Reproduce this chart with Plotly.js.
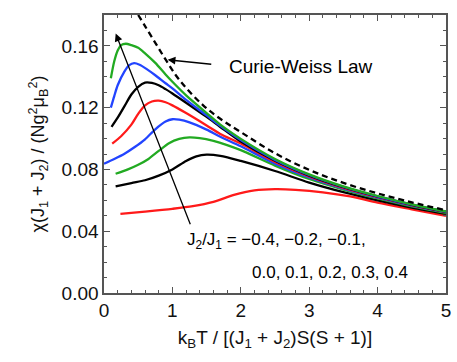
<!DOCTYPE html>
<html>
<head>
<meta charset="utf-8">
<script src="https://cdn.plot.ly/plotly-3.0.1.min.js"></script>
<style>
  html, body { margin: 0; padding: 0; background: #fff; }
  #chi-figure { width: 457px; height: 362px; }
</style>
</head>
<body>
<div id="chi-figure"></div>
<script>
// values
var cw_x = [0.5, 0.6, 0.75, 0.9, 1.05, 1.2, 1.45, 1.7, 2.0, 2.5, 3.0, 3.5, 4.0, 4.5, 5.0]
var cw_y = [0.180, 0.1728, 0.1620, 0.1512, 0.1410, 0.1328, 0.1215, 0.1128, 0.1042, 0.0905, 0.0797, 0.0713, 0.0645, 0.0587, 0.0536]

var tail_x = [2.5, 3.0, 3.5, 4.0, 4.5, 5.0]

// J2/J1 = -0.4
var red_m04_x = [0.24, 0.6, 1.0, 1.3, 1.6, 1.9, 2.2, 2.5, 2.8, 3.2, 3.6, 4.0, 4.5, 5.0]
var red_m04_y = [0.0512, 0.0527, 0.0545, 0.0562, 0.0590, 0.0635, 0.0664, 0.0672, 0.0668, 0.0652, 0.0625, 0.0585, 0.0542, 0.0500]
// J2/J1 = -0.2
var blk_m02_x = [0.17, 0.4, 0.6, 0.8, 1.0, 1.2, 1.35, 1.5, 1.7, 2.0].concat(tail_x)
var blk_m02_y = [0.0690, 0.0712, 0.0730, 0.0760, 0.0800, 0.0855, 0.0885, 0.0896, 0.0888, 0.0855, 0.0790, 0.0715, 0.0653, 0.0600, 0.0553, 0.0512]
// J2/J1 = -0.1
var grn_m01_x = [0.17, 0.35, 0.5, 0.65, 0.8, 0.95, 1.1, 1.25, 1.4, 1.6, 1.8, 2.0].concat(tail_x)
var grn_m01_y = [0.0772, 0.0800, 0.0830, 0.0868, 0.0920, 0.0970, 0.0998, 0.1008, 0.1003, 0.0985, 0.0958, 0.0925, 0.0825, 0.0738, 0.0670, 0.0612, 0.0561, 0.0519]
// J2/J1 = 0.0
var blu_00_x = [0.0, 0.15, 0.3, 0.45, 0.6, 0.75, 0.9, 1.0, 1.1, 1.25, 1.5, 1.7, 2.0].concat(tail_x)
var blu_00_y = [0.0837, 0.0868, 0.0902, 0.0945, 0.0995, 0.1060, 0.1110, 0.1125, 0.1122, 0.1105, 0.1058, 0.1012, 0.0950, 0.0838, 0.0748, 0.0676, 0.0617, 0.0566, 0.0523]
// J2/J1 = 0.1
var red_01_x = [0.12, 0.25, 0.4, 0.5, 0.6, 0.7, 0.8, 0.9, 1.0, 1.2, 1.5, 1.7, 2.0].concat(tail_x)
var red_01_y = [0.0967, 0.1015, 0.1090, 0.1160, 0.1215, 0.1240, 0.1245, 0.1235, 0.1215, 0.1165, 0.1085, 0.1030, 0.0968, 0.0849, 0.0755, 0.0681, 0.0621, 0.0569, 0.0525]
// J2/J1 = 0.2
var blk_02_x = [0.11, 0.2, 0.3, 0.4, 0.5, 0.6, 0.7, 0.8, 0.9, 1.0, 1.2, 1.5, 1.7, 2.0].concat(tail_x)
var blk_02_y = [0.1076, 0.1135, 0.1210, 0.1285, 0.1335, 0.1362, 0.1360, 0.1345, 0.1320, 0.1292, 0.1232, 0.1140, 0.1075, 0.0980, 0.0856, 0.0760, 0.0685, 0.0624, 0.0571, 0.0526]
// J2/J1 = 0.3
var blu_03_x = [0.1, 0.15, 0.2, 0.3, 0.37, 0.44, 0.52, 0.63, 0.75, 0.9, 1.0, 1.2, 1.5, 1.7, 2.0].concat(tail_x)
var blu_03_y = [0.120, 0.1275, 0.1345, 0.1435, 0.1475, 0.1488, 0.1478, 0.1448, 0.1410, 0.1358, 0.1325, 0.1250, 0.1150, 0.1082, 0.0990, 0.0862, 0.0764, 0.0688, 0.0626, 0.0573, 0.0527]
// J2/J1 = 0.4
var grn_04_x = [0.1, 0.15, 0.2, 0.25, 0.32, 0.4, 0.5, 0.6, 0.75, 0.9, 1.0, 1.2, 1.5, 1.7, 2.0].concat(tail_x)
var grn_04_y = [0.139, 0.150, 0.157, 0.1605, 0.1614, 0.1605, 0.1588, 0.1552, 0.1490, 0.1415, 0.1368, 0.1280, 0.1165, 0.1090, 0.0998, 0.0868, 0.0768, 0.0690, 0.0628, 0.0574, 0.0528]

var RED = '#ff1a1a', BLACK = '#000000', GREEN = '#22aa22', BLUE = '#2244ff'

function curve(x, y, color) {
    return {
        x: x, y: y, mode: 'lines', type: 'scatter',
        line: { color: color, width: 2.3, shape: 'spline', smoothing: 0.8 },
        hoverinfo: 'skip'
    }
}

var traces = [
    curve(red_m04_x, red_m04_y, RED),
    curve(blk_m02_x, blk_m02_y, BLACK),
    curve(grn_m01_x, grn_m01_y, GREEN),
    curve(blu_00_x, blu_00_y, BLUE),
    curve(red_01_x, red_01_y, RED),
    curve(blk_02_x, blk_02_y, BLACK),
    curve(blu_03_x, blu_03_y, BLUE),
    curve(grn_04_x, grn_04_y, GREEN),
    {
        x: cw_x, y: cw_y, mode: 'lines', type: 'scatter',
        line: { color: '#000', width: 2.3, dash: '6px,4px', shape: 'spline' },
        hoverinfo: 'skip'
    }
]

var FONT = 'Arial, "Liberation Sans", sans-serif'

var layout = {
    width: 457, height: 362,
    margin: { l: 104, r: 11, t: 15, b: 69 },
    showlegend: false,
    paper_bgcolor: '#fff', plot_bgcolor: '#fff',
    font: { family: FONT, size: 19, color: '#111' },
    xaxis: {
        range: [0, 5], dtick: 1, tick0: 0,
        showgrid: false, zeroline: false,
        showline: true, linecolor: '#555', linewidth: 1.6, mirror: 'allticks',
        ticks: 'inside', ticklen: 6, tickcolor: '#555', tickwidth: 1,
        minor: { ticks: 'inside', dtick: 0.2, ticklen: 3, tickcolor: '#555', showgrid: false },
        tickfont: { size: 19 },
        title: { text: 'k<sub>B</sub>T / [(J<sub>1</sub> + J<sub>2</sub>)S(S + 1)]', font: { size: 19 }, standoff: 10 }
    },
    yaxis: {
        range: [0, 0.18], dtick: 0.04, tick0: 0, tickformat: '.2f',
        showgrid: false, zeroline: false,
        showline: true, linecolor: '#555', linewidth: 1.6, mirror: 'allticks',
        ticks: 'inside', ticklen: 6, tickcolor: '#555', tickwidth: 1,
        minor: { ticks: 'inside', dtick: 0.01, ticklen: 3, tickcolor: '#555', showgrid: false },
        tickfont: { size: 19 },
        title: { text: 'χ(J<sub>1</sub> + J<sub>2</sub>) / (Ng<sup>2</sup>μ<sub>B</sub><sup>2</sup>)', font: { size: 18 }, standoff: 12 }
    },
    annotations: [
        {
            x: 1.80, y: 0.1464, xref: 'x', yref: 'y', xanchor: 'left', yanchor: 'middle',
            text: 'Curie-Weiss Law', showarrow: false, font: { size: 19, color: '#000' }
        },
        {
            x: 0.93, y: 0.151, ax: 1.59, ay: 0.148, axref: 'x', ayref: 'y', xref: 'x', yref: 'y',
            text: '', showarrow: true, arrowhead: 2, arrowsize: 1.2, arrowwidth: 1.3, arrowcolor: '#000'
        },
        {
            x: 0.171, y: 0.168, ax: 1.27, ay: 0.0436, axref: 'x', ayref: 'y', xref: 'x', yref: 'y',
            text: '', showarrow: true, arrowhead: 2, arrowsize: 1.2, arrowwidth: 1.3, arrowcolor: '#000'
        },
        {
            x: 1.18, y: 0.0338, xref: 'x', yref: 'y', xanchor: 'left', yanchor: 'middle',
            text: 'J<sub>2</sub>/J<sub>1</sub> = −0.4, −0.2, −0.1,', showarrow: false, font: { size: 17, color: '#000' }
        },
        {
            x: 2.13, y: 0.013, xref: 'x', yref: 'y', xanchor: 'left', yanchor: 'middle',
            text: '0.0, 0.1, 0.2, 0.3, 0.4', showarrow: false, font: { size: 17, color: '#000' }
        }
    ]
}

Plotly.newPlot('chi-figure', traces, layout, { staticPlot: true })
</script>
</body>
</html>
